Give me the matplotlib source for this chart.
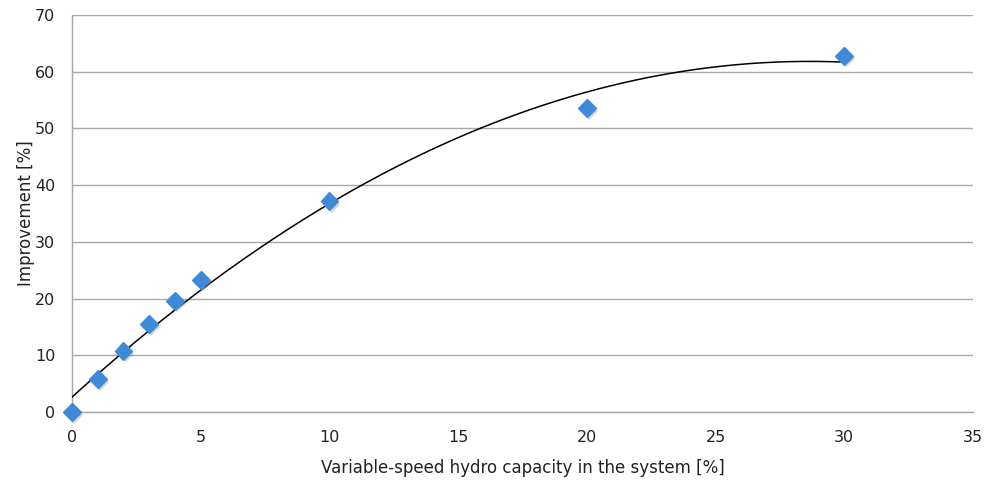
import numpy as np
import matplotlib
matplotlib.use("Agg")
import matplotlib.pyplot as plt
import matplotlib.patheffects as pe

# Variable-speed hydro share vs. improvement
capacity = [0, 1, 2, 3, 4, 5, 10, 20, 30]
improvement = [0.0, 5.8, 10.8, 15.5, 19.6, 23.3, 37.2, 53.6, 62.8]
x_ticks = [0, 5, 10, 15, 20, 25, 30, 35]
y_ticks = [0, 10, 20, 30, 40, 50, 60, 70]

plt.rcParams['font.family'] = ['DejaVu Sans']

fig = plt.figure(figsize=(9.87, 4.80), dpi=100)
ax = fig.add_axes([72 / 987, 1 - 412 / 480, (973 - 72) / 987, (412 - 15) / 480])

ax.set_xlim(0, 35)
ax.set_ylim(0, 70)
ax.set_xticks(x_ticks)
ax.set_yticks(y_ticks)
ax.tick_params(length=0, labelsize=11.5, colors='#222222')
ax.tick_params(axis='x', pad=13)
ax.tick_params(axis='y', pad=12)

ax.yaxis.grid(True, color='#a8a8a8', linewidth=1.0)
ax.set_axisbelow(True)
for s in ['top', 'right']:
    ax.spines[s].set_visible(False)
for s in ['left', 'bottom']:
    ax.spines[s].set_color('#a8a8a8')
    ax.spines[s].set_linewidth(1.0)

# Second-order polynomial trendline fitted to the data
coef = np.polyfit(capacity, improvement, 2)
xs = np.linspace(min(capacity), max(capacity), 300)
ax.plot(xs, np.polyval(coef, xs), color='black', linewidth=1.1, zorder=3)

ax.plot(capacity, improvement, linestyle='none', marker='D', markersize=9,
        markerfacecolor='#3f8ad8', markeredgecolor='#3f8ad8', zorder=4,
        path_effects=[pe.SimplePatchShadow(offset=(1.5, -2), shadow_rgbFace='#888888', alpha=0.35),
                      pe.Normal()], clip_on=False)

ax.set_xlabel('Variable-speed hydro capacity in the system [%]', fontsize=12, color='#222222', labelpad=10)
ax.set_ylabel('Improvement [%]', fontsize=12, color='#222222', labelpad=0)

fig.savefig('out.png', dpi=100)
